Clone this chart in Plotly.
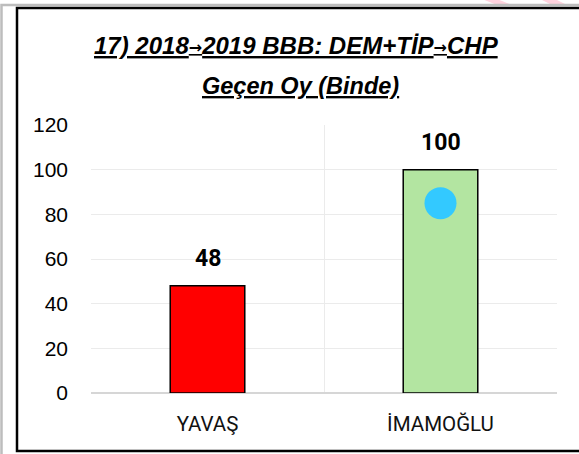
import plotly.graph_objects as go

categories = ["YAVAŞ", "İMAMOĞLU"]
values = [48, 100]
bar_colors = ["#FF0000", "#B3E5A1"]
value_labels = ["48", "100"]
dot_category = ["İMAMOĞLU"]
dot_values = [85]
y_ticks = [0, 20, 40, 60, 80, 100, 120]
title_line1_parts = ["17) 2018", "2019 BBB: DEM+TİP", "CHP"]
title_line2 = "Geçen Oy (Binde)"

W, H = 579, 454
L, R, T, B = 91, 22, 125, 61
pw, ph = W - L - R, H - T - B


def px_x(px):
    return (px - L) / pw


def px_y(py):
    return (H - B - py) / ph


ARROW = '<span style="font-family:DejaVu Sans;font-size:16px;baseline-shift:1px">→</span>'

fig = go.Figure()
fig.add_trace(go.Bar(
    x=categories, y=values,
    marker=dict(color=bar_colors, line=dict(color="black", width=1.5)),
    hoverinfo="skip", showlegend=False,
))
fig.add_trace(go.Scatter(
    x=dot_category, y=dot_values, mode="markers",
    marker=dict(size=32, color="#33C9FF", line=dict(width=0)),
    hoverinfo="skip", showlegend=False,
))

annotations = []
for c, v, t in zip(categories, values, value_labels):
    annotations.append(dict(
        x=c, y=v, xref="x", yref="y", text="<b>" + t + "</b>", showarrow=False,
        yanchor="middle", yshift=27,
        font=dict(family="Roboto, Arial, sans-serif", size=23, color="black"),
    ))
annotations.append(dict(
    x=px_x(296), y=px_y(45), xref="paper", yref="paper",
    text="<b><i><u>" + ARROW.join(title_line1_parts) + "</u></i></b>", showarrow=False,
    xanchor="center", yanchor="middle",
    font=dict(family="Liberation Sans, Arial, sans-serif", size=24, color="black"),
))
annotations.append(dict(
    x=px_x(300), y=px_y(86), xref="paper", yref="paper",
    text="<b><i><u>" + title_line2 + "</u></i></b>", showarrow=False,
    xanchor="center", yanchor="middle",
    font=dict(family="Liberation Sans, Arial, sans-serif", size=23.5, color="black"),
))


def pth(points):
    return "M " + " L ".join(f"{px_x(a)},{px_y(b)}" for a, b in points)


shapes = [
    # pink watermark stripes
    dict(type="path", xref="paper", yref="paper",
         path=pth([(482, -1), (497, -1), (512, 5), (497, 5)]) + " Z",
         fillcolor="#FFD3DE", line=dict(width=0), layer="below"),
    dict(type="path", xref="paper", yref="paper",
         path=pth([(540, -1), (555, -1), (567, 5), (552, 5)]) + " Z",
         fillcolor="#FFD3DE", line=dict(width=0), layer="below"),
    # grey page edges (open path)
    dict(type="path", xref="paper", yref="paper",
         path=pth([(1.5, 460), (1.5, 5), (620, 5)]),
         line=dict(color="#BDBDBD", width=2.5), layer="below"),
    # black chart frame (open path: bottom, left, top)
    dict(type="path", xref="paper", yref="paper",
         path=pth([(620, 451), (17, 451), (17, 8), (620, 8)]),
         line=dict(color="black", width=2.5), layer="below"),
]

fig.update_layout(
    width=W, height=H,
    margin=dict(l=L, r=R, t=T, b=B, pad=0),
    paper_bgcolor="white", plot_bgcolor="white",
    bargap=0.68,
    annotations=annotations, shapes=shapes,
    xaxis=dict(
        type="category", range=[-0.5, 1.5], tickson="boundaries",
        showgrid=True, gridcolor="#EBEBEB", gridwidth=1,
        showline=False, zeroline=False, ticks="",
        ticklabelstandoff=16,
        tickfont=dict(family="Roboto, Arial, sans-serif", size=20.5, color="#111111"),
        fixedrange=True,
    ),
    yaxis=dict(
        range=[0, 120], tickvals=y_ticks, ticktext=[str(v) for v in y_ticks],
        showgrid=True, gridcolor="#EBEBEB", gridwidth=1,
        zeroline=True, zerolinecolor="#D6D6D6", zerolinewidth=1.5,
        showline=False, ticks="", ticklabelstandoff=22,
        tickfont=dict(family="Liberation Sans, Arial, sans-serif", size=21, color="black"),
        fixedrange=True,
    ),
)

fig.write_html(
    "out.html",
    config={"displayModeBar": False, "staticPlot": True},
    post_script=(
        "document.body.style.margin='0';document.body.style.padding='0';"
        "document.body.style.overflow='hidden';"
        "document.documentElement.style.overflow='hidden';"
    ),
)
